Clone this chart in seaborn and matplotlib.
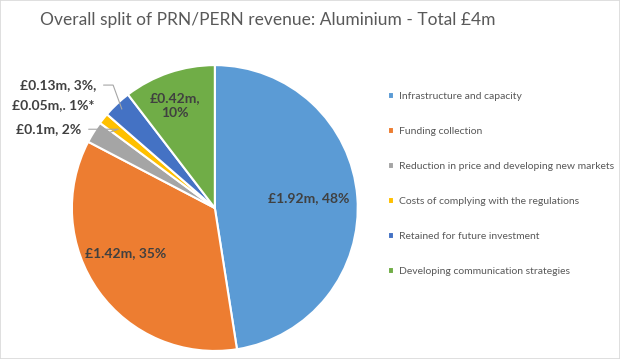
import numpy as np
import seaborn as sns
import matplotlib.pyplot as plt
from matplotlib.patches import Rectangle

sns.set_theme(style="white")
plt.rcParams['font.family'] = ['Lato', 'DejaVu Sans']

# data
categories = ["Infrastructure and capacity", "Funding collection",
              "Reduction in price and developing new markets",
              "Costs of complying with the regulations",
              "Retained for future investment",
              "Developing communication strategies"]
values = [1.92, 1.42, 0.10, 0.05, 0.13, 0.42]
labels = ["£1.92m, 48%", "£1.42m, 35%", "£0.1m, 2%", "£0.05m,. 1%*",
          "£0.13m, 3%,", "£0.42m,\n10%"]
colors = ["#5B9BD5", "#ED7D31", "#A5A5A5", "#FFC000", "#4472C4", "#70AD47"]

fig = plt.figure(figsize=(6.2, 3.59), dpi=100)
fig.patches.append(Rectangle((0, 0), 1, 1, transform=fig.transFigure,
                             fill=False, edgecolor="#D9D9D9", lw=1.2))

ax = fig.add_axes([0.116, 0.022, 0.461, 0.797])
wedges, _ = ax.pie(values, colors=colors, startangle=90, counterclock=False,
                   wedgeprops=dict(edgecolor="white", linewidth=1.5))
ax.set_xlim(-1, 1)
ax.set_ylim(-1, 1)
ax.set_aspect("equal")

lab_color = "#404040"
lab_size = 10
# inside labels: radius and angle nudge (degrees)
inside = {0: (0.66, 1.5), 1: (0.70, -9), 5: (0.77, 2.5)}
for i, (r, nudge) in inside.items():
    w = wedges[i]
    ang = np.deg2rad((w.theta1 + w.theta2) / 2 + nudge)
    ax.text(r * np.cos(ang), r * np.sin(ang), labels[i], ha="center", va="center",
            fontsize=lab_size, fontweight="bold", color=lab_color, linespacing=1.3)

# outside labels with leader lines
outside = {2: (0.131, 0.640, 20), 4: (0.155, 0.763, -70)}
for i, (tx, ty, angB) in outside.items():
    w = wedges[i]
    ang = np.deg2rad((w.theta1 + w.theta2) / 2)
    ax.annotate(labels[i], xy=(np.cos(ang) * 0.95, np.sin(ang) * 0.95),
                xytext=(tx, ty), textcoords="figure fraction",
                ha="right", va="center", fontsize=lab_size, fontweight="bold",
                color=lab_color,
                arrowprops=dict(arrowstyle="-", color="#A6A6A6", lw=0.8,
                                shrinkA=3, shrinkB=0,
                                connectionstyle=f"angle,angleA=0,angleB={angB},rad=0"))
fig.text(0.152, 0.708, labels[3], ha="right", va="center", fontsize=lab_size,
         fontweight="bold", color=lab_color)

fig.text(0.065, 0.944, "Overall split of PRN/PERN revenue: Aluminium - Total £4m",
         ha="left", va="center", fontsize=12.5, color="#595959")

fig.legend(wedges, categories, loc="upper left", bbox_to_anchor=(0.61, 0.77),
           frameon=False, fontsize=7.5, labelcolor="#595959", labelspacing=2.5,
           handlelength=0.6, handleheight=0.6, handletextpad=0.5)

fig.savefig("out.png", dpi=100)
